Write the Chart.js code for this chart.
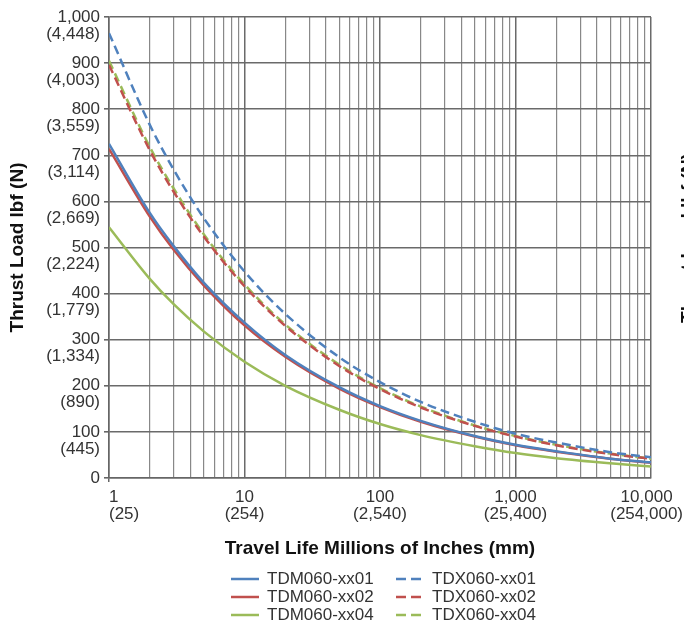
<!DOCTYPE html>
<html>
<head>
<meta charset="utf-8">
<script src="https://cdn.jsdelivr.net/npm/chart.js@4.4.0/dist/chart.umd.min.js"></script>
<style>
  body { margin: 0; background: #fff; overflow: hidden; }
  #wrap { position: relative; width: 684px; height: 627px; overflow: hidden; }
  #legend { position: absolute; left: 231px; top: 570px; display: grid; grid-template-columns: 165px 170px; font: 17px "Liberation Sans", Arial, sans-serif; color: #333; line-height: 18px; }
  .item { display: flex; align-items: center; }
  .item svg { margin-right: 8px; }
  #nextTitle { position: absolute; left: 598px; top: 227px; width: 180px; text-align: center; transform: rotate(-90deg); font: bold 19px "Liberation Sans", Arial, sans-serif; color: #111; white-space: nowrap; }
</style>
</head>
<body>
<div id="wrap">
  <canvas id="myChart" width="684" height="627"></canvas>
  <div id="legend"></div>
  <div id="nextTitle">Thrust Load lbf (N)</div>
</div>
<script>
// travel life, millions of inches
const lifeValues = [1, 2, 3, 5, 10, 20, 50, 100, 200, 500, 1000, 2000, 5000, 10000];

// thrust load, lbf
const tdm01 = [725, 575, 503, 424, 337, 267, 197, 156, 124, 91, 72, 58, 42, 34];
const tdm02 = [714, 567, 495, 418, 331, 263, 194, 154, 122, 90, 71, 57, 42, 33];
const tdm04 = [544, 432, 377, 318, 252, 200, 148, 117, 93, 69, 54, 43, 32, 25];
const tdx01 = [965, 766, 669, 564, 448, 356, 262, 208, 165, 122, 96, 77, 56, 45];
const tdx02 = [896, 711, 621, 524, 416, 330, 243, 193, 153, 113, 90, 71, 52, 42];
const tdx04 = [905, 718, 628, 529, 420, 333, 246, 195, 155, 114, 91, 72, 53, 42];

const seriesNames = ['TDM060-xx01', 'TDX060-xx01', 'TDM060-xx02', 'TDX060-xx02', 'TDM060-xx04', 'TDX060-xx04'];

// axis tick labels
const yTickLbf = ['0', '100', '200', '300', '400', '500', '600', '700', '800', '900', '1,000'];
const yTickN = ['', '(445)', '(890)', '(1,334)', '(1,779)', '(2,224)', '(2,669)', '(3,114)', '(3,559)', '(4,003)', '(4,448)'];
const xTickValues = [1, 10, 100, 1000, 10000];
const xTickInch = ['1', '10', '100', '1,000', '10,000'];
const xTickMm = ['(25)', '(254)', '(2,540)', '(25,400)', '(254,000)'];

const blue = '#4f81bd', red = '#c0504d', green = '#9bbb59';
const dash = [9, 5];

function toPoints(arr) {
  return arr.map((v, i) => ({ x: lifeValues[i], y: v }));
}

function makeSet(label, arr, color, dashed) {
  return {
    label: label,
    data: toPoints(arr),
    borderColor: color,
    backgroundColor: color,
    borderWidth: 2.5,
    borderDash: dashed ? dash : [],
    pointRadius: 0,
    cubicInterpolationMode: 'monotone',
    fill: false
  };
}

// every 1..9 step of each decade gets a grid line
const xGrid = [];
for (let d = 1; d < 10000; d *= 10) {
  for (let k = 1; k < 10; k++) xGrid.push(k * d);
}
xGrid.push(10000);

const fontFam = '"Liberation Sans", Arial, sans-serif';
const isDecade = (c) => c.tick && xTickValues.includes(c.tick.value);

// x labels: first one starts at its grid line, last one kept inside the canvas
const xLabelPlugin = {
  id: 'xLabels',
  afterDraw(chart) {
    const sc = chart.scales.x;
    const c = chart.ctx;
    c.save();
    c.font = '17px ' + fontFam;
    c.fillStyle = '#333';
    c.textBaseline = 'middle';
    const y1 = sc.top + 19;
    const y2 = y1 + 17;
    xTickValues.forEach((v, i) => {
      let px = sc.getPixelForValue(v);
      if (i === 0) {
        c.textAlign = 'left';
      } else {
        c.textAlign = 'center';
        const half = Math.max(c.measureText(xTickInch[i]).width, c.measureText(xTickMm[i]).width) / 2;
        px = Math.min(px, chart.width - 1 - half);
      }
      c.fillText(xTickInch[i], px, y1);
      c.fillText(xTickMm[i], px, y2);
    });
    c.restore();
  }
};

const ctx = document.getElementById('myChart');
const myChart = new Chart(ctx, {
  type: 'line',
  data: {
    datasets: [
      makeSet(seriesNames[0], tdm01, blue, false),
      makeSet(seriesNames[1], tdx01, blue, true),
      makeSet(seriesNames[2], tdm02, red, false),
      makeSet(seriesNames[3], tdx02, red, true),
      makeSet(seriesNames[4], tdm04, green, false),
      makeSet(seriesNames[5], tdx04, green, true)
    ]
  },
  plugins: [xLabelPlugin],
  options: {
    responsive: false,
    animation: false,
    layout: { padding: { left: 0, right: 0, top: 0, bottom: 67 } },
    plugins: {
      legend: { display: false },
      tooltip: { enabled: false }
    },
    scales: {
      x: {
        type: 'logarithmic',
        min: 1,
        max: 10000,
        afterBuildTicks: (scale) => {
          scale.ticks = xGrid.map(v => ({ value: v }));
        },
        afterFit: (scale) => {
          scale.height = 82;
          scale.paddingLeft = 0;
          scale.paddingRight = 33;
        },
        ticks: { display: false, autoSkip: false },
        grid: {
          color: (c) => isDecade(c) ? '#6a6a6a' : '#888',
          lineWidth: (c) => isDecade(c) ? 1.5 : 1.2,
          tickLength: 4,
          tickColor: (c) => (c.index === 0 ? '#666' : 'rgba(0,0,0,0)')
        },
        border: { color: '#666', width: 1.5 },
        title: {
          display: true,
          text: 'Travel Life Millions of Inches (mm)',
          color: '#111',
          font: { family: fontFam, size: 19, weight: 'bold' },
          padding: { top: 0, bottom: 0 }
        }
      },
      y: {
        min: 0,
        max: 1000,
        afterFit: (scale) => {
          scale.width = 109;
          scale.paddingTop = 17;
        },
        ticks: {
          stepSize: 100,
          padding: 4,
          labelOffset: 8.5,
          color: '#333',
          font: { family: fontFam, size: 17, lineHeight: 1 },
          callback: function (value, index) {
            return [yTickLbf[index], yTickN[index]];
          }
        },
        grid: {
          color: '#6a6a6a',
          lineWidth: 1.6,
          tickLength: 5,
          tickColor: '#666'
        },
        border: { color: '#666', width: 1.5 },
        title: {
          display: true,
          text: 'Thrust Load lbf (N)',
          color: '#111',
          font: { family: fontFam, size: 19, weight: 'bold' },
          padding: { top: 6, bottom: 16 }
        }
      }
    }
  }
});

// html legend, two columns (solid TDM / dashed TDX)
const legend = document.getElementById('legend');
myChart.data.datasets.forEach(ds => {
  const item = document.createElement('div');
  item.className = 'item';
  const dashAttr = ds.borderDash.length ? ' stroke-dasharray="10,5"' : '';
  item.innerHTML = '<svg width="28" height="6"><line x1="0" y1="3" x2="28" y2="3" stroke="' + ds.borderColor +
    '" stroke-width="2.5"' + dashAttr + '/></svg><span>' + ds.label + '</span>';
  legend.appendChild(item);
});
</script>
</body>
</html>
